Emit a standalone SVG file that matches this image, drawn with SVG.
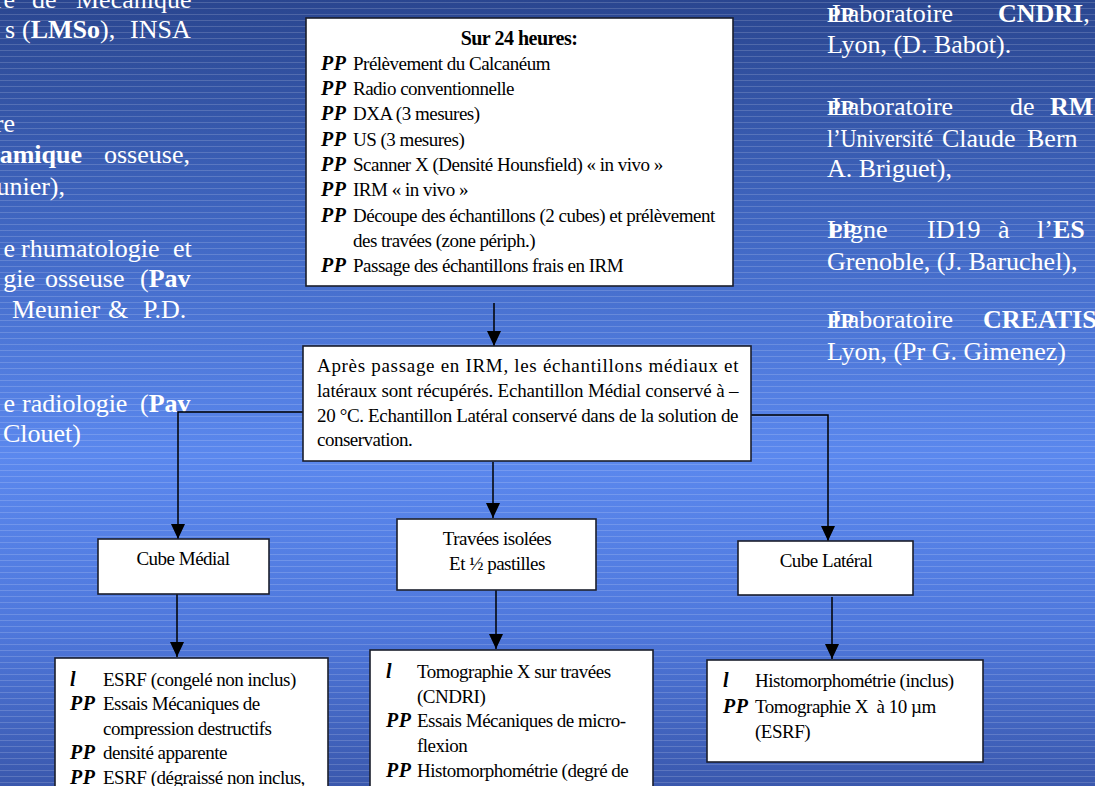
<svg xmlns="http://www.w3.org/2000/svg" width="1095" height="786" viewBox="0 0 1095 786">
<defs>
<linearGradient id="bg" x1="0" y1="0" x2="0" y2="1">
<stop offset="0" stop-color="#2a4690"/>
<stop offset="0.3" stop-color="#4168c4"/>
<stop offset="0.58" stop-color="#5b88ee"/>
<stop offset="0.8" stop-color="#4f78dc"/>
<stop offset="1" stop-color="#3a58ad"/>
</linearGradient>
<pattern id="stripes" x="0" y="0" width="20" height="6" patternUnits="userSpaceOnUse">
<rect x="0" y="2" width="20" height="1" fill="#ffffff" fill-opacity="0.16"/>
</pattern>
<marker id="arr" markerUnits="userSpaceOnUse" markerWidth="15" markerHeight="15" refX="15" refY="7" orient="auto">
<path d="M0,0 L15,7 L0,14 Z" fill="#000"/>
</marker>
<style>
.side{font-family:"Liberation Serif","Times New Roman",serif;font-size:26px;fill:#fff}
.b{font-weight:bold}
.box{fill:#fff;stroke:#1b1e2c;stroke-width:1.6}
.t{font-family:"Liberation Serif","Times New Roman",serif;font-size:19px;fill:#000;letter-spacing:-0.5px}
.bul{font-family:"Liberation Serif","Times New Roman",serif;font-size:20px;font-weight:bold;font-style:italic;fill:#000;letter-spacing:0.5px}
.pp{font-size:22px;font-weight:bold}
.con{fill:none;stroke:#000;stroke-width:1.5}
</style>
</defs>
<rect x="0" y="0" width="1095" height="786" fill="url(#bg)"/>
<rect x="0" y="0" width="1095" height="786" fill="url(#stripes)"/>

<g id="left-text" class="side">
<text y="8"><tspan x="15" text-anchor="end">re</tspan><tspan x="32">de</tspan><tspan x="76">Mécanique</tspan></text>
<text y="38"><tspan x="15" text-anchor="end">s</tspan><tspan x="22">(<tspan class="b">LMSo</tspan>),</tspan><tspan x="130">INSA</tspan></text>
<text y="132"><tspan x="15" text-anchor="end">re</tspan></text>
<text y="163"><tspan x="82" text-anchor="end" class="b">amique</tspan><tspan x="104">osseuse,</tspan></text>
<text y="195"><tspan x="65" text-anchor="end">unier),</tspan></text>
<text y="257"><tspan x="15" text-anchor="end">e</tspan><tspan x="21">rhumatologie</tspan><tspan x="173">et</tspan></text>
<text y="287"><tspan x="35" text-anchor="end">gie</tspan><tspan x="45">osseuse</tspan><tspan x="140">(<tspan class="b">Pav</tspan></tspan></text>
<text y="318"><tspan x="12">Meunier</tspan><tspan x="108">&amp;</tspan><tspan x="143">P.D.</tspan></text>
<text y="412"><tspan x="15" text-anchor="end">e</tspan><tspan x="22">radiologie</tspan><tspan x="140">(<tspan class="b">Pav</tspan></tspan></text>
<text y="442" x="3">Clouet)</text>
</g>

<g id="right-text" class="side">
<text y="22" x="827"><tspan class="pp">PP</tspan><tspan dx="-22">Laboratoire</tspan><tspan x="998" class="b">CNDRI</tspan>,</text>
<text x="827" y="53">Lyon, (D. Babot).</text>
<text y="115" x="827"><tspan class="pp">PP</tspan><tspan dx="-22">Laboratoire</tspan><tspan x="1010">de</tspan><tspan x="1050" class="b">RM</tspan></text>
<text y="147"><tspan x="827" textLength="106" lengthAdjust="spacingAndGlyphs">l’Université</tspan><tspan x="942">Claude</tspan><tspan x="1027">Bern</tspan></text>
<text x="827" y="177">A. Briguet),</text>
<text y="238" x="827"><tspan class="pp">PP</tspan><tspan dx="-29">Ligne</tspan><tspan x="927">ID19</tspan><tspan x="998">à</tspan><tspan x="1037">l’<tspan class="b">ES</tspan></tspan></text>
<text x="827" y="270">Grenoble, (J. Baruchel),</text>
<text y="328" x="827"><tspan class="pp">PP</tspan><tspan dx="-22">Laboratoire</tspan><tspan x="983" class="b">CREATIS</tspan></text>
<text x="827" y="360">Lyon, (Pr G. Gimenez)</text>
</g>

<g id="connectors">
<path class="con" d="M494,303 V346" marker-end="url(#arr)"/>
<path class="con" d="M303,412 H178 V539" marker-end="url(#arr)"/>
<path class="con" d="M751,415 H828 V541" marker-end="url(#arr)"/>
<path class="con" d="M493,462 V518" marker-end="url(#arr)"/>
<path class="con" d="M177,594 V657" marker-end="url(#arr)"/>
<path class="con" d="M496,590 V649" marker-end="url(#arr)"/>
<path class="con" d="M832,597 V659" marker-end="url(#arr)"/>
</g>

<g id="node-24h">
<rect class="box" x="306" y="18" width="427" height="268"/>
<text class="t b" x="519" y="45" text-anchor="middle" style="font-size:20px">Sur 24 heures:</text>
<text class="bul" x="321" y="70">PP</text><text class="t" x="353" y="70">Prélèvement du Calcanéum</text>
<text class="bul" x="321" y="95">PP</text><text class="t" x="353" y="95">Radio conventionnelle</text>
<text class="bul" x="321" y="120">PP</text><text class="t" x="353" y="120">DXA (3 mesures)</text>
<text class="bul" x="321" y="146">PP</text><text class="t" x="353" y="146">US (3 mesures)</text>
<text class="bul" x="321" y="171">PP</text><text class="t" x="353" y="171">Scanner X (Densité Hounsfield) « in vivo »</text>
<text class="bul" x="321" y="196">PP</text><text class="t" x="353" y="196">IRM « in vivo »</text>
<text class="bul" x="321" y="222">PP</text><text class="t" x="353" y="222">Découpe des échantillons (2 cubes) et prélèvement</text>
<text class="t" x="353" y="247">des travées (zone périph.)</text>
<text class="bul" x="321" y="272">PP</text><text class="t" x="353" y="272">Passage des échantillons frais en IRM</text>
</g>

<g id="node-apres-irm">
<rect class="box" x="303" y="346" width="448" height="115"/>
<text class="t" x="317" y="372" textLength="421" lengthAdjust="spacing">Après passage en IRM, les échantillons médiaux et</text>
<text class="t" x="317" y="397" textLength="421" lengthAdjust="spacing">latéraux sont récupérés. Echantillon Médial conservé à –</text>
<text class="t" x="317" y="422" textLength="421" lengthAdjust="spacing">20 °C. Echantillon Latéral conservé dans de la solution de</text>
<text class="t" x="317" y="446">conservation.</text>
</g>

<g id="node-cube-medial">
<rect class="box" x="98" y="539" width="171" height="55"/>
<text class="t" x="183" y="565" text-anchor="middle">Cube Médial</text>
</g>

<g id="node-travees">
<rect class="box" x="397" y="519" width="199" height="71"/>
<text class="t" x="497" y="545" text-anchor="middle">Travées isolées</text>
<text class="t" x="497" y="570" text-anchor="middle">Et ½ pastilles</text>
</g>

<g id="node-cube-lateral">
<rect class="box" x="738" y="541" width="175" height="54"/>
<text class="t" x="826" y="567" text-anchor="middle">Cube Latéral</text>
</g>

<g id="node-medial-tests">
<rect class="box" x="55" y="658" width="273" height="140"/>
<text class="bul" x="70" y="686">l</text><text class="t" x="103" y="686">ESRF (congelé non inclus)</text>
<text class="bul" x="70" y="710">PP</text><text class="t" x="103" y="710">Essais Mécaniques de</text>
<text class="t" x="103" y="735">compression destructifs</text>
<text class="bul" x="70" y="759">PP</text><text class="t" x="103" y="759">densité apparente</text>
<text class="bul" x="70" y="784">PP</text><text class="t" x="103" y="784">ESRF (dégraissé non inclus,</text>
</g>

<g id="node-travees-tests">
<rect class="box" x="370" y="650" width="283" height="148"/>
<text class="bul" x="386" y="678">l</text><text class="t" x="417" y="678">Tomographie X sur travées</text>
<text class="t" x="417" y="703">(CNDRI)</text>
<text class="bul" x="386" y="727">PP</text><text class="t" x="417" y="727">Essais Mécaniques de micro-</text>
<text class="t" x="417" y="752">flexion</text>
<text class="bul" x="386" y="777">PP</text><text class="t" x="417" y="777">Histomorphométrie (degré de</text>
</g>

<g id="node-lateral-tests">
<rect class="box" x="707" y="660" width="276" height="102"/>
<text class="bul" x="723" y="687">l</text><text class="t" x="755" y="687">Histomorphométrie (inclus)</text>
<text class="bul" x="723" y="713">PP</text><text class="t" x="755" y="713">Tomographie X&#160; à 10 µm</text>
<text class="t" x="755" y="738">(ESRF)</text>
</g>
</svg>
